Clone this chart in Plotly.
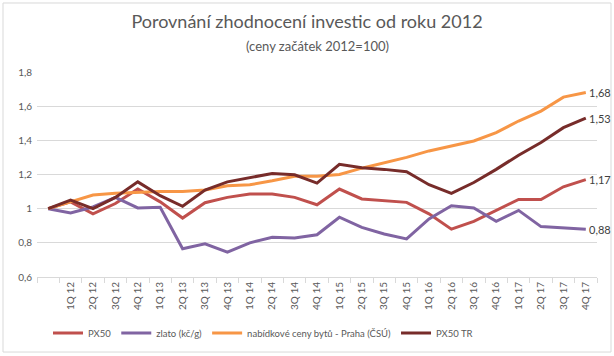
import plotly.graph_objects as go

categories = [" ",
              "1Q 12", "2Q 12", "3Q 12", "4Q 12",
              "1Q 13", "2Q 13", "3Q 13", "4Q 13",
              "1Q 14", "2Q 14", "3Q 14", "4Q 14",
              "1Q 15", "2Q 15", "3Q 15", "4Q 15",
              "1Q 16", "2Q 16", "3Q 16", "4Q 16",
              "1Q 17", "2Q 17", "3Q 17", "4Q 17"]

px50 = [1.00, 1.04, 0.97, 1.03, 1.115, 1.04, 0.945, 1.035, 1.066, 1.086, 1.086, 1.066,
        1.023, 1.115, 1.057, 1.047, 1.037, 0.97, 0.88, 0.926, 0.99, 1.054, 1.054, 1.128, 1.17]
zlato = [1.00, 0.975, 1.01, 1.066, 1.004, 1.008, 0.765, 0.794, 0.745, 0.80, 0.833, 0.829,
         0.847, 0.95, 0.89, 0.852, 0.823, 0.94, 1.017, 1.004, 0.926, 0.99, 0.895, 0.887, 0.88]
byty = [1.00, 1.04, 1.08, 1.09, 1.095, 1.10, 1.10, 1.109, 1.134, 1.14, 1.163, 1.19,
        1.19, 1.20, 1.237, 1.27, 1.30, 1.338, 1.367, 1.396, 1.445, 1.513, 1.571, 1.653, 1.68]
px50tr = [1.00, 1.05, 1.00, 1.066, 1.157, 1.076, 1.014, 1.109, 1.157, 1.183, 1.206, 1.198,
          1.15, 1.26, 1.24, 1.23, 1.216, 1.14, 1.09, 1.153, 1.23, 1.313, 1.387, 1.474, 1.53]

series_names = ["PX50", "zlato (kč/g)", "nabídkové ceny bytů - Praha (ČSÚ)", "PX50 TR"]
series_colors = ["#C0504D", "#8064A2", "#F79646", "#772C2A"]
end_labels = ["1,17", "0,88", "1,68", "1,53"]

y_tickvals = [0.6, 0.8, 1.0, 1.2, 1.4, 1.6, 1.8]
y_ticktext = ["0,6", "0,8", "1", "1,2", "1,4", "1,6", "1,8"]

title_text = "Porovnání zhodnocení investic od roku 2012"
subtitle_text = "(ceny začátek 2012=100)"

FONT = "Lato, 'Open Sans', sans-serif"

fig = go.Figure()
annotations = []
for vals, name, color, lab in zip([px50, zlato, byty, px50tr], series_names, series_colors, end_labels):
    fig.add_trace(go.Scatter(
        x=categories, y=vals, name=name, mode="lines",
        line=dict(color=color, width=3),
    ))
    annotations.append(dict(
        x=categories[-1], y=vals[-1], xref="x", yref="y",
        text=lab, showarrow=False, xanchor="left", yanchor="middle", xshift=1,
        font=dict(color="#404040", size=11, family=FONT),
    ))

plot_top, plot_bottom = 72, 356 - 79
annotations.append(dict(
    x=0.5, y=(plot_bottom - 46) / (plot_bottom - plot_top), xref="paper", yref="paper",
    text=subtitle_text, showarrow=False, xanchor="center", yanchor="middle",
    font=dict(size=13, color="#595959", family=FONT),
))

fig.update_layout(
    width=614, height=356,
    margin=dict(l=37, r=17, t=72, b=79, autoexpand=False),
    paper_bgcolor="white", plot_bgcolor="white",
    font=dict(family=FONT, color="#595959"),
    title=dict(
        text=title_text,
        x=0.5, xanchor="center", xref="container",
        y=1 - 22 / 356, yanchor="middle", yref="container",
        font=dict(size=18, color="#595959", family=FONT),
    ),
    showlegend=True,
    legend=dict(orientation="h", x=48 / 614, xanchor="left", xref="container",
                y=23 / 356, yanchor="middle", yref="container",
                font=dict(size=9.5, color="#595959", family=FONT),
                itemwidth=30, tracegroupgap=0),
    xaxis=dict(
        type="category", range=[-0.5, 24.5],
        showgrid=False, showline=True, linecolor="#D9D9D9", linewidth=1,
        ticks="outside", tickson="boundaries", ticklen=5, tickcolor="#D9D9D9",
        tickangle=-90, tickfont=dict(size=10, color="#595959", family=FONT),
        automargin=False,
    ),
    yaxis=dict(
        range=[0.6, 1.8], tickvals=y_tickvals, ticktext=y_ticktext,
        showgrid=True, gridcolor="#D9D9D9", gridwidth=1,
        zeroline=False, showline=False, ticklabelstandoff=4,
        tickfont=dict(size=10, color="#595959", family=FONT),
        automargin=False,
    ),
    annotations=annotations,
    shapes=[dict(type="rect", xref="paper", yref="paper",
                 x0=-0.0607, x1=1.025, y0=-0.366, y1=1.3366,
                 line=dict(color="#D9D9D9", width=1), layer="below")],
)

fig.write_html("out.html", config={"displayModeBar": False},
               post_script="document.body.style.margin='0';document.body.style.overflow='hidden';")
